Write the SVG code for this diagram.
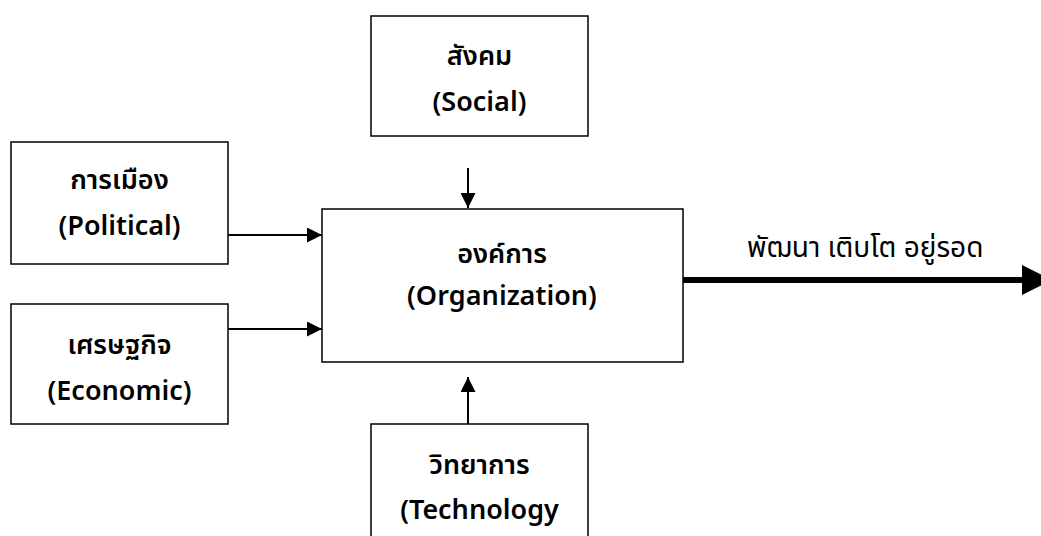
<svg xmlns="http://www.w3.org/2000/svg" width="1041" height="536" viewBox="0 0 1041 536">
<defs>
<style>
.box{fill:#fff;stroke:#000;stroke-width:1.5}
.lbl{font-family:"Noto Sans Thai","Noto Sans","DejaVu Sans",sans-serif;font-size:27px;font-weight:600;text-anchor:middle;fill:#000}
.out{font-family:"Noto Sans Thai","Noto Sans","DejaVu Sans",sans-serif;font-size:28px;fill:#000}
.con{stroke:#000;stroke-width:2;fill:none}
</style>
<marker id="ah" markerWidth="15" markerHeight="15" refX="15" refY="7.5" orient="auto" markerUnits="userSpaceOnUse" viewBox="0 0 15 15"><path d="M0,0 L15,7.5 L0,15 z" fill="#000"/></marker>
</defs>
<rect width="1041" height="536" fill="#fff"/>
<g id="social"><rect class="box" x="371" y="16" width="217" height="120"/><text class="lbl" x="479.5" y="65">สังคม</text><text class="lbl" x="479.5" y="111">(Social)</text></g>
<g id="political"><rect class="box" x="11" y="142" width="217" height="122"/><text class="lbl" x="119.5" y="189">การเมือง</text><text class="lbl" x="119.5" y="235">(Political)</text></g>
<g id="organization"><rect class="box" x="322" y="209" width="361" height="153"/><text class="lbl" x="502" y="263">องค์การ</text><text class="lbl" x="502" y="305">(Organization)</text></g>
<g id="economic"><rect class="box" x="11" y="304" width="217" height="120"/><text class="lbl" x="119.5" y="354">เศรษฐกิจ</text><text class="lbl" x="119.5" y="400">(Economic)</text></g>
<g id="technology"><rect class="box" x="371" y="424" width="217" height="130"/><text class="lbl" x="479.5" y="474">วิทยาการ</text><text class="lbl" x="479.5" y="519">(Technology</text></g>
<g id="connectors">
<line class="con" x1="228" y1="235" x2="322" y2="235" marker-end="url(#ah)"/>
<line class="con" x1="228" y1="329" x2="322" y2="329" marker-end="url(#ah)"/>
<line class="con" x1="468" y1="168" x2="468" y2="208" marker-end="url(#ah)"/>
<line class="con" x1="468" y1="424" x2="468" y2="377" marker-end="url(#ah)"/>
<line x1="683" y1="280" x2="1024" y2="280" stroke="#000" stroke-width="6"/>
<path d="M1022,265 L1052,280 L1022,295 z" fill="#000"/>
</g>
<text class="out" x="747" y="257">พัฒนา เติบโต อยู่รอด</text>
</svg>
